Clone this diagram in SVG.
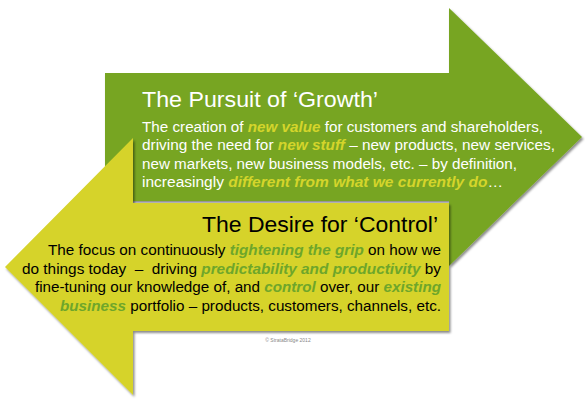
<svg xmlns="http://www.w3.org/2000/svg" width="585" height="402" viewBox="0 0 585 402">
<defs>
<filter id="sh" x="-10%" y="-10%" width="120%" height="120%">
<feDropShadow dx="1.5" dy="2" stdDeviation="1.2" flood-color="#000" flood-opacity="0.45"/>
</filter>
<style>
text{font-family:"Liberation Sans",Arial,Helvetica,sans-serif}
.t1{font-size:22.5px;fill:#fff}
.b1{font-size:15.3px;fill:#fff}
.h1{font-weight:bold;font-style:italic;fill:#d4d52b}
.t2{font-size:22.5px;fill:#000}
.b2{font-size:15.3px;fill:#000}
.h2{font-weight:bold;font-style:italic;fill:#6ea62a}
</style>
</defs>
<rect width="585" height="402" fill="#fff"/>
<g id="growth">
<path d="M105,73 H449 V8 L582,137 L449,266 V201 H105 Z" fill="#77a520" filter="url(#sh)"/>
</g>
<g id="control">
<path d="M5,267 L133,138 V203 H449 V331 H133 V395 Z" fill="#d6d32a" filter="url(#sh)"/>
</g>
<g id="growth-text">
<text class="t1" x="142" y="107" textLength="236" lengthAdjust="spacingAndGlyphs">The Pursuit of ‘Growth’</text>
<text class="b1" x="142" y="132" textLength="401" lengthAdjust="spacingAndGlyphs">The creation of <tspan class="h1">new value</tspan> for customers and shareholders,</text>
<text class="b1" x="142" y="150" textLength="413" lengthAdjust="spacingAndGlyphs">driving the need for <tspan class="h1">new stuff</tspan> – new products, new services,</text>
<text class="b1" x="142" y="169" textLength="375" lengthAdjust="spacingAndGlyphs">new markets, new business models, etc. – by definition,</text>
<text class="b1" x="142" y="187" textLength="361" lengthAdjust="spacingAndGlyphs">increasingly <tspan class="h1">different from what we currently do</tspan>…</text>
</g>
<g id="control-text">
<text class="t2" x="202" y="232" textLength="236" lengthAdjust="spacingAndGlyphs">The Desire for ‘Control’</text>
<text class="b2" x="48" y="255" textLength="393" lengthAdjust="spacingAndGlyphs">The focus on continuously <tspan class="h2">tightening the grip</tspan> on how we</text>
<text class="b2" x="22" y="274" textLength="419" lengthAdjust="spacingAndGlyphs">do things today &#160;– &#160;driving <tspan class="h2">predictability and productivity</tspan> by</text>
<text class="b2" x="35" y="292" textLength="406" lengthAdjust="spacingAndGlyphs">fine-tuning our knowledge of, and <tspan class="h2">control</tspan> over, our <tspan class="h2">existing</tspan></text>
<text class="b2" x="60" y="311" textLength="381" lengthAdjust="spacingAndGlyphs"><tspan class="h2">business</tspan> portfolio – products, customers, channels, etc.</text>
</g>
<text x="288" y="342" text-anchor="middle" font-size="5" fill="#888">© StrataBridge 2012</text>
</svg>
